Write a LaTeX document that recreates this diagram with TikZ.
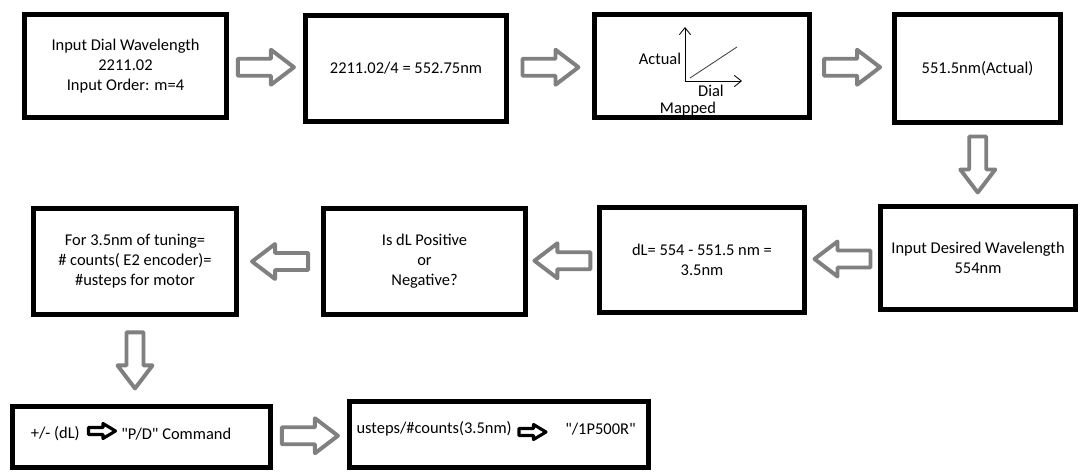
\documentclass[tikz,border=0pt]{standalone}
\usepackage{fontspec}
\setmainfont{Carlito}[Ligatures=TeXOff]
\usepackage{tikz}
\usetikzlibrary{arrows.meta,calc}

\definecolor{arrowgray}{RGB}{128,128,128}

\tikzset{
    box/.style={draw, line width=3.4pt, align=center, inner sep=2pt, font=\fontsize{11.7}{14.2}\selectfont},
    txt/.style={inner sep=0pt, font=\fontsize{11.7}{14.2}\selectfont},
    pics/bigarrow/.style={code={
        \filldraw[fill=white, draw=arrowgray, line width=2.8pt, line join=round]
            (-28,-8.5) -- (5,-8.5) -- (5,-17.5) -- (28,0) -- (5,17.5) -- (5,8.5) -- (-28,8.5) -- cycle;
    }},
    pics/tinyarrow/.style={code={
        \filldraw[fill=white, draw=black, line width=2.2pt, line join=round]
            (-13.5,-3.5) -- (1,-3.5) -- (1,-7.5) -- (13.5,0) -- (1,7.5) -- (1,3.5) -- (-13.5,3.5) -- cycle;
    }}
}

\begin{document}
\begin{tikzpicture}[x=0.025cm, y=-0.025cm]
    \useasboundingbox (0,0) rectangle (1080,472);

    % first row
    \node[box, minimum width=5.05cm, minimum height=2.575cm] (dial) at (125.5,66) {Input Dial Wavelength\\2211.02\\Input Order: m=4};
    \node[box, minimum width=5.03cm, minimum height=2.65cm] (divide) at (406,68.5) {2211.02/4 = 552.75nm};
    \node[box, minimum width=5.38cm, minimum height=2.575cm] (mapped) at (702,66) {};
    \node[box, minimum width=4.15cm, minimum height=2.7cm] (actual) at (977.5,68.5) {551.5nm(Actual)};

    % small plot inside the mapping box
    \draw[line width=0.6pt, -{Straight Barb[length=5pt, width=8pt]}] (685,81) -- (685,27);
    \draw[line width=0.6pt, -{Straight Barb[length=5pt, width=8pt]}] (685,81) -- (742,81);
    \draw[line width=0.6pt, black!75] (690,78) -- (737,47);
    \node[txt] (actuallbl) at (660,59) {Actual};
    \node[txt] (diallbl) at (711,91) {Dial};
    \node[txt] (mappedlbl) at (688,109) {Mapped};

    % second row
    \node[box, minimum width=4.88cm, minimum height=2.575cm] (desired) at (978,258) {Input Desired Wavelength\\554nm};
    \node[box, minimum width=5.13cm, minimum height=2.63cm] (diff) at (702,260) {dL= 554 - 551.5 nm =\\3.5nm};
    \node[box, minimum width=5.05cm, minimum height=2.65cm] (sign) at (424.5,261.5) {Is dL Positive\\or\\Negative?};
    \node[box, minimum width=5.08cm, minimum height=2.65cm] (counts) at (135,261.5) {For 3.5nm of tuning=\\\# counts( E2 encoder)=\\\#usteps for motor};

    % third row
    \node[box, minimum width=6.45cm, minimum height=1.53cm] (command) at (141.5,437) {};
    \node[box, minimum width=7.48cm, minimum height=1.65cm] (steps) at (499,434.5) {};

    \node[txt, anchor=east] (dltxt) at (80,434) {+/- (dL)};
    \pic at (102,431) {tinyarrow};
    \node[txt, anchor=west] (pdtxt) at (121,434) {"P/D" Command};

    \node[txt, anchor=east] (usteptxt) at (512,429) {usteps/\#counts(3.5nm)};
    \pic at (532.5,432) {tinyarrow};
    \node[txt, anchor=west] (cmdtxt) at (565,429) {"/1P500R"};

    % block arrows between the steps
    \pic at ($(dial.east)!0.5!(divide.west)$) {bigarrow};
    \pic at ($(divide.east)!0.5!(mapped.west)$) {bigarrow};
    \pic at ($(mapped.east)!0.5!(actual.west)$) {bigarrow};
    \pic[rotate=-90] at ($(actual.south)!0.5!(desired.north)$) {bigarrow};
    \pic[rotate=180] at ($(desired.west)!0.5!(diff.east)$) {bigarrow};
    \pic[rotate=180] at ($(diff.west)!0.5!(sign.east)$) {bigarrow};
    \pic[rotate=180] at ($(sign.west)!0.5!(counts.east)$) {bigarrow};
    \pic[rotate=-90] at ($(counts.south)!0.5!(counts.south |- command.north)$) {bigarrow};
    \pic at ($(command.east)!0.5!(steps.west)$) {bigarrow};
\end{tikzpicture}
\end{document}
